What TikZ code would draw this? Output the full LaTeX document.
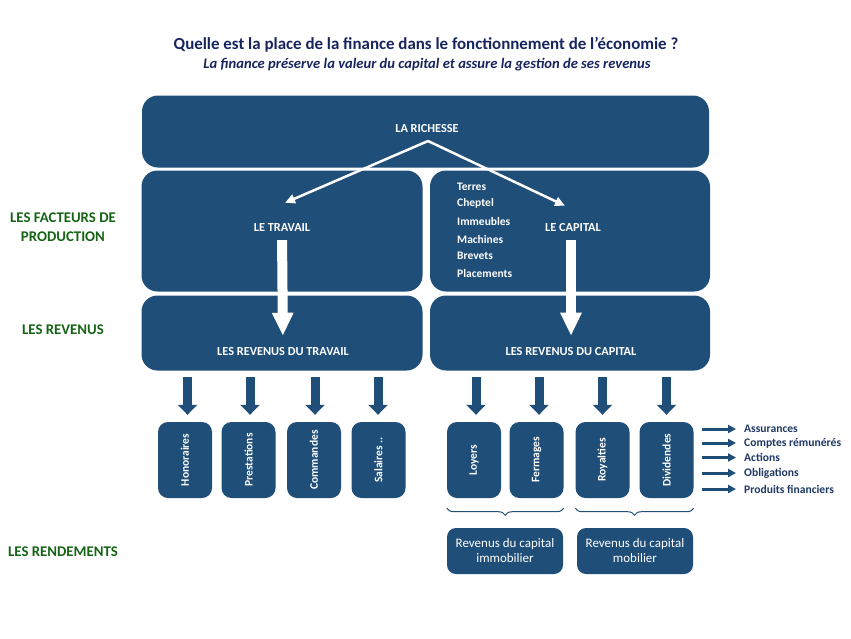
\documentclass[tikz,border=0pt]{standalone}
\usepackage{fontspec}
\setmainfont{Carlito}
\usetikzlibrary{arrows.meta,decorations.pathreplacing}
\definecolor{boxblue}{RGB}{31,78,121}
\definecolor{titleblue}{RGB}{24,36,94}
\definecolor{labelgreen}{RGB}{22,100,22}
\definecolor{listblue}{RGB}{31,56,100}
\begin{document}
\begin{tikzpicture}[x=1pt,y=-1pt,
  bigbox/.style={fill=boxblue, rounded corners=16pt, inner sep=0pt},
  smallbox/.style={fill=boxblue, rounded corners=10pt, inner sep=0pt, minimum width=54pt, minimum height=76pt},
  bottombox/.style={fill=boxblue, rounded corners=9pt, inner sep=0pt, minimum height=46pt, text=white, align=center, font=\fontsize{13}{15}\selectfont},
  boxtext/.style={text=white, inner sep=1pt, font=\fontsize{12.3}{14}\selectfont\bfseries},
  listtext/.style={text=white, inner sep=1pt, font=\fontsize{11.5}{13}\selectfont\bfseries},
  vtext/.style={text=white, rotate=90, inner sep=1pt, font=\fontsize{11.5}{13}\selectfont\bfseries},
  sidelabel/.style={text=labelgreen, align=center, font=\fontsize{14.8}{19}\selectfont\bfseries},
  listlabel/.style={text=listblue, anchor=west, inner sep=0pt, font=\fontsize{11.6}{13}\selectfont\bfseries},
  thinarrow/.style={white, line width=2.5pt, -{Triangle[width=9pt,length=10pt]}},
  bigarrow/.style={white, line width=10pt, -{Triangle[width=20pt,length=23pt]}},
  downarrow/.style={boxblue, line width=9pt, -{Triangle[width=19pt,length=10pt]}},
  listarrow/.style={boxblue, line width=3pt, -{Triangle[width=8pt,length=8pt]}},
  brace/.style={draw=boxblue, line width=1pt, decorate, decoration={brace, mirror, amplitude=7pt}}]
\useasboundingbox (0,0) rectangle (851,638);

% titre
\node[text=titleblue, font=\fontsize{16.9}{19}\selectfont\bfseries] (title) at (426,45) {Quelle est la place de la finance dans le fonctionnement de l’économie ?};
\node[text=titleblue, font=\fontsize{14.6}{17}\selectfont\bfseries\itshape] (subtitle) at (427,65) {La finance préserve la valeur du capital et assure la gestion de ses revenus};

% grands blocs
\node[bigbox, minimum width=567pt, minimum height=72pt] (richessebox) at (425.5,131.5) {};
\node[bigbox, minimum width=281pt, minimum height=121pt] (travailbox) at (282,231) {};
\node[bigbox, minimum width=280pt, minimum height=121pt] (capitalbox) at (570,231) {};
\node[bigbox, minimum width=281pt, minimum height=75pt] (revtravailbox) at (282,333) {};
\node[bigbox, minimum width=280pt, minimum height=75pt] (revcapitalbox) at (570,333) {};

\node[boxtext] (richesse) at (427,129) {LA RICHESSE};
\node[boxtext] (travail) at (282,228) {LE TRAVAIL};
\node[boxtext] (capital) at (573,228) {LE CAPITAL};
\node[boxtext] (revtravail) at (283,352) {LES REVENUS DU TRAVAIL};
\node[boxtext] (revcapital) at (571,352) {LES REVENUS DU CAPITAL};

\foreach \name/\y in {Terres/187, Cheptel/203, Immeubles/222, Machines/239, Brevets/256, Placements/274}
  \node[listtext, anchor=west] (cap\name) at (456,\y) {\name};

% fleches blanches
\coordinate (apex) at (428,141);
\draw[thinarrow] (apex) -- ([xshift=3pt,yshift=20pt]travail.north);
\draw[thinarrow] (apex) -- ([xshift=-8pt,yshift=17pt]capital.north);
\draw[bigarrow, shorten <=7pt, shorten >=11pt] (travail.south) -- (revtravail.north);
\draw[bigarrow, shorten <=7pt, shorten >=11pt] (capital.south -| revcapital.north) -- (revcapital.north);

% libelles a gauche
\node[sidelabel] (facteurs) at (63,227) {LES FACTEURS DE\\PRODUCTION};
\node[sidelabel] (revenus) at (63,330) {LES REVENUS};
\node[sidelabel] (rendements) at (63,552) {LES RENDEMENTS};

% petits blocs
\node[smallbox] (hon) at (185,460) {};
\node[smallbox] (pre) at (248.5,460) {};
\node[smallbox] (com) at (314,460) {};
\node[smallbox] (sal) at (378.5,460) {};
\node[smallbox] (loy) at (474,460) {};
\node[smallbox] (fer) at (536.5,460) {};
\node[smallbox] (roy) at (602.5,460) {};
\node[smallbox] (div) at (666.5,460) {};
\node[vtext] at (hon) {Honoraires};
\node[vtext] at (pre) {Prestations};
\node[vtext] at (com) {Commandes};
\node[vtext] at (sal) {Salaires ..};
\node[vtext] at (loy) {Loyers};
\node[vtext] at (fer) {Fermages};
\node[vtext] at (roy) {Royalties};
\node[vtext] at (div) {Dividendes};

\foreach \b/\x in {hon/187.5, pre/250, com/315, sal/378}
  \draw[downarrow, shorten <=7pt, shorten >=7pt] (\x,370) -- (hon.north -| \x,0);
\foreach \b/\x in {loy/476, fer/539, roy/602.5, div/666.5}
  \draw[downarrow, shorten <=7pt, shorten >=7pt] (\x,370) -- (loy.north -| \x,0);

% accolades et rendements
\draw[brace] ([yshift=-10pt]loy.south west) -- ([yshift=-10pt]fer.south east);
\draw[brace] ([yshift=-10pt]roy.south west) -- ([yshift=-10pt]div.south east);
\node[bottombox, minimum width=116pt] (immo) at (505,551) {Revenus du capital\\immobilier};
\node[bottombox, minimum width=116pt] (mobi) at (635,551) {Revenus du capital\\mobilier};

% produits financiers
\foreach \name/\txt/\y in {assu/Assurances/429, compt/Comptes rémunérés/443, act/Actions/457.5, obli/Obligations/473, prod/Produits financiers/489}{
  \node[listlabel] (\name) at (744,\y) {\txt};
  \draw[listarrow, shorten <=8pt, shorten >=8pt] (div.east |- \name.west) -- (\name.west);
}
\end{tikzpicture}
\end{document}
